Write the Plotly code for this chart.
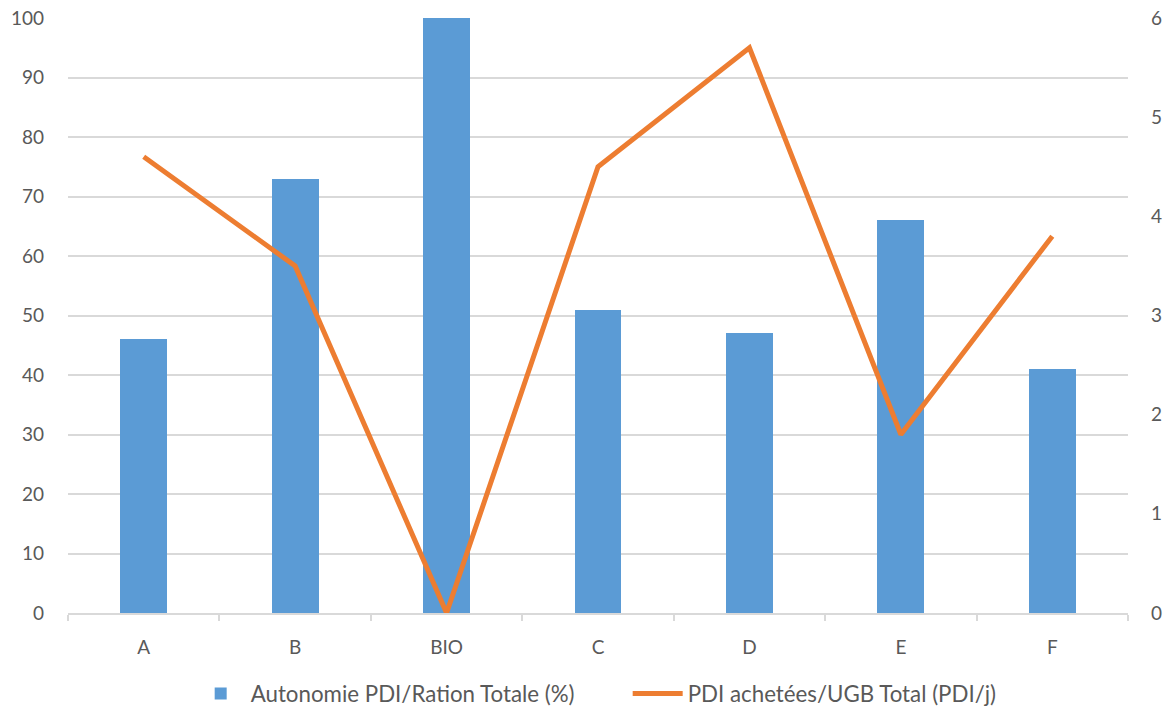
import plotly.graph_objects as go

categories = ["A", "B", "BIO", "C", "D", "E", "F"]
autonomie = [46, 73, 100, 51, 47, 66, 41]
pdi_achetees = [4.6, 3.5, 0.0, 4.5, 5.7, 1.8, 3.8]
left_ticks = [0, 10, 20, 30, 40, 50, 60, 70, 80, 90, 100]
right_ticks = [0, 1, 2, 3, 4, 5, 6]

font_family = "Lato, Open Sans, sans-serif"
txt = "#595959"
grid = "#d9d9d9"

fig = go.Figure()
fig.add_trace(go.Bar(
    x=categories, y=autonomie, name="Autonomie PDI/Ration Totale (%)",
    marker=dict(color="#5b9bd5", line=dict(width=0)), width=0.31, yaxis="y",
))
fig.add_trace(go.Scatter(
    x=categories, y=pdi_achetees, name="PDI achetées/UGB Total (PDI/j)",
    mode="lines", line=dict(color="#ed7d31", width=5), yaxis="y2",
))

fig.update_layout(
    width=1168, height=710,
    margin=dict(l=68, r=40, t=18, b=97, autoexpand=False),
    paper_bgcolor="white", plot_bgcolor="white",
    font=dict(family=font_family, size=19, color=txt),
    showlegend=True,
    legend=dict(orientation="h", x=0.528, xanchor="center", y=-0.1, yanchor="top",
                font=dict(size=22.3, color=txt), traceorder="normal",
                entrywidth=372, entrywidthmode="pixels", itemwidth=50),
    xaxis=dict(type="category", showgrid=False, showline=True, linecolor=grid, linewidth=1.5,
               ticks="outside", tickson="boundaries", ticklen=6, tickcolor=grid, tickwidth=1.5,
               tickfont=dict(size=19, color=txt), range=[-0.5, 6.5], automargin=False,
               ticklabelstandoff=16),
    yaxis=dict(range=[0, 100], tickvals=left_ticks, showgrid=True, gridcolor=grid, gridwidth=1.5,
               zeroline=False, showline=False, ticks="", tickfont=dict(size=19, color=txt),
               ticklabelstandoff=23, automargin=False, ticklabeloverflow="allow"),
    yaxis2=dict(range=[0, 6], tickvals=right_ticks, overlaying="y", side="right", showgrid=False,
                zeroline=False, showline=False, ticks="", tickfont=dict(size=19, color=txt),
                ticklabelstandoff=22, automargin=False, ticklabeloverflow="allow"),
    bargap=0.0,
)

fig.write_html(
    "out.html",
    config={"displayModeBar": False},
    post_script="document.body.style.margin='0';document.body.style.overflow='hidden';",
)
